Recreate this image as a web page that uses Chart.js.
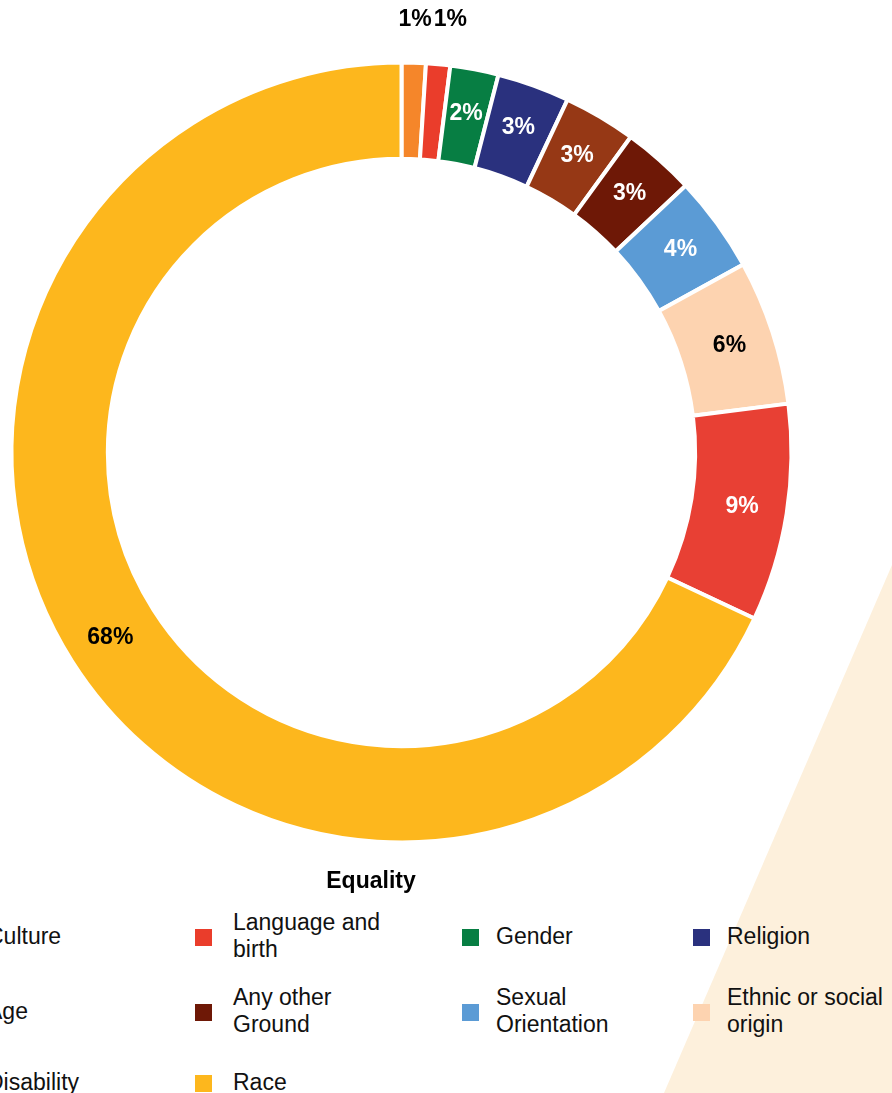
<!DOCTYPE html>
<html>
<head>
<meta charset="utf-8">
<script src="https://cdn.jsdelivr.net/npm/chart.js@4"></script>
<style>
  html, body { margin: 0; padding: 0; }
  body {
    width: 892px;
    height: 1093px;
    position: relative;
    overflow: hidden;
    background: #ffffff;
    font-family: "Liberation Sans", Arial, sans-serif;
  }
  #bg-shape {
    position: absolute;
    left: 0; top: 0;
    width: 892px; height: 1093px;
    background: #fdf0dc;
    clip-path: polygon(892px 565px, 664px 1093px, 892px 1093px);
  }
  #my-chart { position: absolute; left: 0; top: 0; }
  #chart-title {
    position: absolute;
    left: 271px; width: 200px;
    top: 867px;
    text-align: center;
    font-weight: bold;
    font-size: 23px;
    color: #000;
  }
  .legend-item {
    position: absolute;
    display: flex;
    align-items: center;
    height: 60px;
    margin-top: -31px;
  }
  .legend-box {
    position: absolute;
    width: 17px; height: 17px;
  }
  .legend-text {
    width: 172px;
    font-size: 23px;
    line-height: 27px;
    color: #111;
  }
</style>
</head>
<body>
<div id="bg-shape"></div>
<canvas id="my-chart" width="892" height="905"></canvas>
<div id="chart-title">Equality</div>
<div id="legend"></div>

<script>
'use strict';

//***********Chart data***********
let groundLabels = [
  'Culture',
  'Language and birth',
  'Gender',
  'Religion',
  'Age',
  'Any other Ground',
  'Sexual Orientation',
  'Ethnic or social origin',
  'Disability',
  'Race'
];
let groundPercents = [1, 1, 2, 3, 3, 3, 4, 6, 9, 68];
let groundColors = [
  '#f5862a',
  '#ea3d2b',
  '#077e43',
  '#2a317e',
  '#963815',
  '#6e1806',
  '#5b9bd5',
  '#fdd3b0',
  '#e84034',
  '#fdb71d'
];

//***********Layout (legend grid)***********
let legendBoxX = [-47, 195, 462, 693];
let legendTextX = [-13, 233, 496, 727];
let legendRowY = [937, 1012, 1083];

// pick black or white text depending on how light the slice is
function labelColor(hex) {
  let r = parseInt(hex.substr(1, 2), 16);
  let g = parseInt(hex.substr(3, 2), 16);
  let b = parseInt(hex.substr(5, 2), 16);
  let lum = 0.299 * r + 0.587 * g + 0.114 * b;
  return lum > 160 ? '#000000' : '#ffffff';
}

// Draws the % labels on the ring, tiny slices get their label above the ring
let percentLabels = {
  id: 'percentLabels',
  afterDatasetsDraw(chart) {
    let ctx = chart.ctx;
    let meta = chart.getDatasetMeta(0);
    let values = chart.data.datasets[0].data;
    ctx.save();
    ctx.font = 'bold 23px "Liberation Sans", Arial, sans-serif';
    ctx.textAlign = 'center';
    ctx.textBaseline = 'middle';
    let lastOutsideRight = -Infinity;
    for (let i = 0; i < meta.data.length; i++) {
      let arc = meta.data[i];
      let p = arc.getProps(['x', 'y', 'startAngle', 'endAngle', 'innerRadius', 'outerRadius'], true);
      let mid = (p.startAngle + p.endAngle) / 2;
      let text = values[i] + '%';
      let w = ctx.measureText(text).width;
      let x, y;
      if (values[i] < 2) {
        let rad = p.outerRadius + 44;
        x = p.x + Math.cos(mid) * rad;
        y = p.y - rad + 1;
        if (x - w / 2 < lastOutsideRight) {
          x = lastOutsideRight + w / 2 + 2;
        }
        lastOutsideRight = x + w / 2;
        ctx.fillStyle = '#000000';
      } else {
        let rad = (p.innerRadius + p.outerRadius) / 2 + 3;
        x = p.x + Math.cos(mid) * rad;
        y = p.y + Math.sin(mid) * rad;
        ctx.fillStyle = labelColor(groundColors[i]);
      }
      ctx.fillText(text, x, y);
    }
    ctx.restore();
  }
};

function renderChart() {
  let customerChart = document.getElementById('my-chart');
  let myChartObj = {
    type: 'doughnut',
    data: {
      labels: groundLabels,
      datasets: [{
        data: groundPercents,
        backgroundColor: groundColors,
        borderColor: '#ffffff',
        borderWidth: 4,
        hoverOffset: 0
      }]
    },
    options: {
      responsive: false,
      animation: false,
      radius: 390,
      cutout: '75.3%',
      layout: {
        padding: { left: 0, right: 89, top: 0, bottom: 0 }
      },
      plugins: {
        legend: { display: false },
        tooltip: { enabled: false }
      }
    },
    plugins: [percentLabels]
  };
  new Chart(customerChart, myChartObj);
}

// HTML legend built from the same arrays
function renderLegend() {
  let legend = document.getElementById('legend');
  for (let i = 0; i < groundLabels.length; i++) {
    let col = i % 4;
    let row = Math.floor(i / 4);
    let box = document.createElement('div');
    box.className = 'legend-box';
    box.style.left = legendBoxX[col] + 'px';
    box.style.top = (legendRowY[row] - 8.5) + 'px';
    box.style.background = groundColors[i];
    legend.appendChild(box);

    let item = document.createElement('div');
    item.className = 'legend-item';
    item.style.left = legendTextX[col] + 'px';
    item.style.top = legendRowY[row] + 'px';
    let txt = document.createElement('div');
    txt.className = 'legend-text';
    txt.textContent = groundLabels[i];
    item.appendChild(txt);
    legend.appendChild(item);
  }
}

renderChart();
renderLegend();
</script>
</body>
</html>
